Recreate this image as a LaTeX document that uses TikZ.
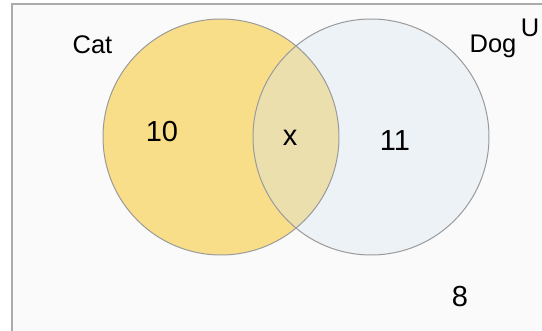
\documentclass[tikz,border=0pt]{standalone}
\usepackage{fontspec}
\setmainfont{Liberation Sans}
\definecolor{catfill}{HTML}{F9DE8A}
\definecolor{dogfill}{HTML}{EDF2F7}
\definecolor{bothfill}{HTML}{EBDFAE}
\definecolor{ringgray}{HTML}{9A9A9A}
\definecolor{boxgray}{HTML}{ABABAB}
\definecolor{bgfill}{HTML}{FAFAFA}
\begin{document}
\begin{tikzpicture}[x=1pt,y=-1pt,
  lbl/.style={anchor=base,inner sep=0pt,font=\fontsize{25.5}{30}\selectfont},
  num/.style={anchor=base,inner sep=0pt,font=\fontsize{29}{32}\selectfont},
  ring/.style={draw=ringgray,line width=1pt}]
\useasboundingbox (0,0) rectangle (542,331);
\clip (0,0) rectangle (542,331);
\fill[white] (0,0) rectangle (542,331);
\draw[boxgray,line width=2pt,fill=bgfill] (11.5,4) rectangle (600,400);
\coordinate (cc) at (221,137);
\coordinate (dc) at (371,137);
\fill[catfill] (cc) circle[radius=118];
\fill[dogfill] (dc) circle[radius=118];
\begin{scope}
  \clip (cc) circle[radius=118];
  \fill[bothfill] (dc) circle[radius=118];
\end{scope}
\draw[ring] (cc) circle[radius=118];
\draw[ring] (dc) circle[radius=118];
\node[lbl] (cat) at (92.5,54) {Cat};
\node[lbl] (dog) at (493,53) {Dog};
\node[lbl] (u) at (530,37) {U};
\node[num] (n10) at (162,142) {10};
\node[num] (nx) at (290,146) {x};
\node[num] (n11) at (395,151) {11};
\node[num] (n8) at (460,307) {8};
\end{tikzpicture}
\end{document}
